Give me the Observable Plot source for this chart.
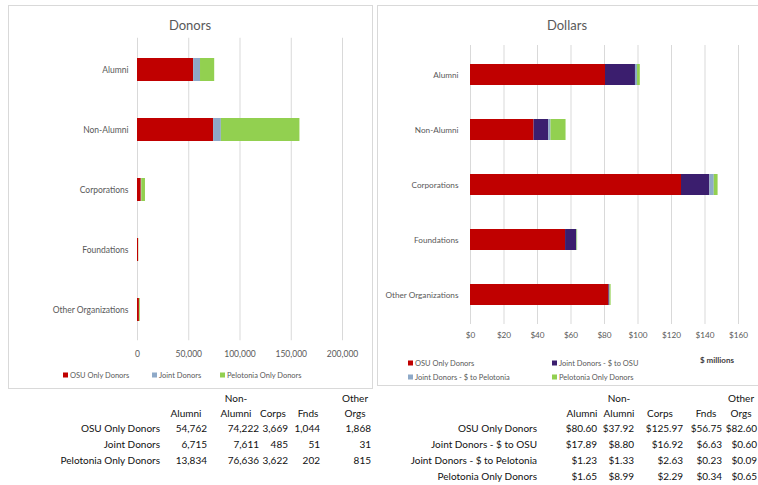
<!DOCTYPE html>
<html>
<head>
<meta charset="utf-8">
<script src="https://cdn.jsdelivr.net/npm/d3@7"></script>
<script src="https://cdn.jsdelivr.net/npm/@observablehq/plot@0.6"></script>
<style>
  html, body { margin: 0; padding: 0; background: #fff; }
  #root { position: relative; width: 758px; height: 485px; overflow: hidden; font-family: Lato, "Open Sans", sans-serif; }
  .panel { position: absolute; border: 1px solid #d9d9d9; background: #fff; }
  .title { position: absolute; font-size: 13px; color: #595959; transform: translate(-50%, -50%); white-space: nowrap; }
  .abs { position: absolute; white-space: nowrap; }
  .leg { position: absolute; font-size: 7.5px; color: #595959; white-space: nowrap; transform: translateY(-50%); }
  .leg i { display: inline-block; width: 5px; height: 5px; margin-right: 2px; vertical-align: middle; position: relative; top: -1px; }
  .cell { position: absolute; font-size: 10px; color: #111; white-space: nowrap; transform: translateY(-50%); }
  .r { transform: translate(-100%, -50%); }
  .c { transform: translate(-50%, -50%); }
  svg { position: absolute; overflow: visible; }
</style>
</head>
<body>
<div id="root"></div>
<script>
// ---------- data ----------
const categories = ["Alumni", "Non-Alumni", "Corporations", "Foundations", "Other Organizations"];

const donorSeries = ["OSU Only Donors", "Joint Donors", "Pelotonia Only Donors"];
const osuOnlyDonors = [54762, 74222, 3669, 1044, 1868];
const jointDonors = [6715, 7611, 485, 51, 31];
const pelotoniaOnlyDonors = [13834, 76636, 3622, 202, 815];
const donorTicks = [0, 50000, 100000, 150000, 200000];

const dollarSeries = ["OSU Only Donors", "Joint Donors - $ to OSU", "Joint Donors - $ to Pelotonia", "Pelotonia Only Donors"];
const osuOnlyDollars = [80.60, 37.92, 125.97, 56.75, 82.60];
const jointToOsuDollars = [17.89, 8.80, 16.92, 6.63, 0.60];
const jointToPelotoniaDollars = [1.23, 1.33, 2.63, 0.23, 0.09];
const pelotoniaOnlyDollars = [1.65, 8.99, 2.29, 0.34, 0.65];
const dollarTicks = [0, 20, 40, 60, 80, 100, 120, 140, 160];

const tableColumns = [["", "Alumni"], ["Non-", "Alumni"], ["", "Corps"], ["", "Fnds"], ["Other", "Orgs"]];

const donorColors = ["#C00000", "#8EA9C8", "#92D050"];
const dollarColors = ["#C00000", "#3B1E6E", "#8EA9C8", "#92D050"];

// ---------- helpers ----------
const root = document.getElementById("root");
function add(cls, text, x, y, style) {
  const el = document.createElement("div");
  el.className = cls;
  el.textContent = text;
  el.style.left = x + "px";
  el.style.top = y + "px";
  if (style) Object.assign(el.style, style);
  root.appendChild(el);
  return el;
}
function long(seriesNames, valueArrays) {
  const out = [];
  seriesNames.forEach((s, i) => categories.forEach((c, j) => out.push({category: c, series: s, value: valueArrays[i][j]})));
  return out;
}

// ---------- panels ----------
const p1 = add("panel", "", 8, 5); p1.style.width = "363px"; p1.style.height = "382px";
const p2 = add("panel", "", 377, 5); p2.style.width = "390px"; p2.style.height = "379px";
add("title", "Donors", 190, 25);
add("title", "Dollars", 567, 25);

// ---------- Donors chart ----------
const donorData = long(donorSeries, [osuOnlyDonors, jointDonors, pelotoniaOnlyDonors]);
const fmt = d3.format(",");
const chart1 = Plot.plot({
  width: 364, height: 340,
  marginLeft: 129, marginRight: 30, marginTop: 7.75, marginBottom: 29.75,
  style: {fontFamily: "Lato, 'Open Sans', sans-serif", fontSize: "8.5px", color: "#595959", background: "transparent"},
  x: {domain: [0, 200000], label: null},
  y: {domain: categories, paddingInner: 0.62, paddingOuter: 0.31, label: null},
  color: {domain: donorSeries, range: donorColors},
  marks: [
    Plot.ruleX(donorTicks, {stroke: "#d9d9d9", strokeWidth: 1}),
    Plot.barX(donorData, Plot.stackX({y: "category", x: "value", fill: "series", order: null})),
    Plot.axisX({ticks: donorTicks, tickFormat: d => fmt(d), tickSize: 0, tickPadding: 10, label: null}),
    Plot.axisY({tickSize: 0, tickPadding: 9, label: null})
  ]
});
chart1.style.left = "8px"; chart1.style.top = "30px";
root.appendChild(chart1);

// ---------- Dollars chart ----------
const dollarData = long(dollarSeries, [osuOnlyDollars, jointToOsuDollars, jointToPelotoniaDollars, pelotoniaOnlyDollars]);
const chart2 = Plot.plot({
  width: 381, height: 320,
  marginLeft: 93, marginRight: 20, marginTop: 15, marginBottom: 26,
  style: {fontFamily: "Lato, 'Open Sans', sans-serif", fontSize: "8.2px", color: "#595959", background: "transparent"},
  x: {domain: [0, 160], label: null},
  y: {domain: categories, paddingInner: 0.62, paddingOuter: 0.31, label: null},
  color: {domain: dollarSeries, range: dollarColors},
  marks: [
    Plot.ruleX(dollarTicks, {stroke: "#d9d9d9", strokeWidth: 1}),
    Plot.barX(dollarData, Plot.stackX({y: "category", x: "value", fill: "series", order: null})),
    Plot.axisX({ticks: dollarTicks, tickFormat: d => "$" + d, tickSize: 0, tickPadding: 8, label: null}),
    Plot.axisY({tickSize: 0, tickPadding: 12, label: null})
  ]
});
chart2.style.left = "377px"; chart2.style.top = "30px";
root.appendChild(chart2);

// ---------- legends ----------
function legendItem(name, color, x, y) {
  const el = add("leg", "", x, y);
  const sw = document.createElement("i");
  sw.style.background = color;
  el.appendChild(sw);
  el.appendChild(document.createTextNode(name));
}
const leg1X = [63, 152, 220];
donorSeries.forEach((s, i) => legendItem(s, donorColors[i], leg1X[i], 375));
const leg2Pos = [[408, 363], [552, 363], [408, 377], [552, 377]];
dollarSeries.forEach((s, i) => legendItem(s, dollarColors[i], leg2Pos[i][0], leg2Pos[i][1]));
add("abs", "$ millions", 700, 355, {fontSize: "8px", fontWeight: "bold", color: "#404040"});

// ---------- tables ----------
function table(rowLabels, rows, labelRight, colRight, colCenter, rowY, fmtFn) {
  tableColumns.forEach((h, j) => {
    if (h[0]) add("cell c", h[0], colCenter[j], 398);
    add("cell c", h[1], colCenter[j], 413);
  });
  rowLabels.forEach((lab, i) => {
    add("cell r", lab, labelRight, rowY[i]);
    rows[i].forEach((v, j) => add("cell r", fmtFn(v), colRight[j], rowY[i]));
  });
}
table(donorSeries, [osuOnlyDonors, jointDonors, pelotoniaOnlyDonors], 160,
  [207, 259, 288, 320, 371], [186, 236, 273, 308, 355], [428, 444, 460], v => fmt(v));
table(dollarSeries, [osuOnlyDollars, jointToOsuDollars, jointToPelotoniaDollars, pelotoniaOnlyDollars], 537,
  [597, 634, 683, 722, 757], [582, 619, 660, 706, 741], [428, 444, 460, 476], v => "$" + v.toFixed(2));
</script>
</body>
</html>
